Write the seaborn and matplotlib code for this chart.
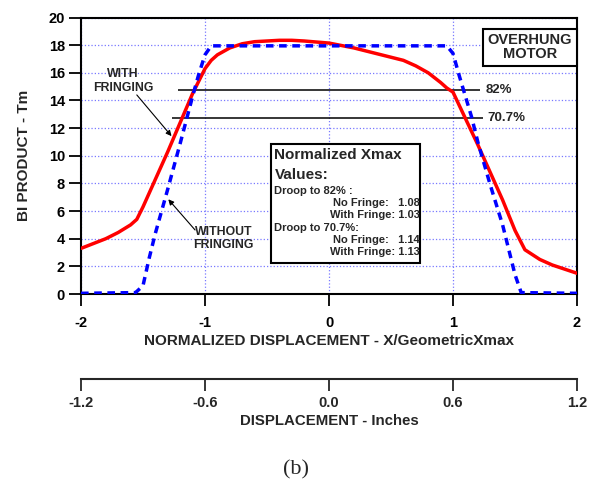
import matplotlib
matplotlib.use('Agg')
import matplotlib.pyplot as plt
import seaborn as sns
import pandas as pd
from matplotlib.patches import Rectangle

# BL curve with fringing (red)
x_fringe = [-2.0, -1.9, -1.8, -1.7, -1.6, -1.55, -1.5, -1.4, -1.3, -1.2, -1.1, -1.0,
            -0.95, -0.9, -0.8, -0.7, -0.6, -0.4, -0.3, -0.2, 0.0, 0.2, 0.4, 0.6,
            0.7, 0.8, 0.9, 0.95, 1.0, 1.1, 1.2, 1.3, 1.4, 1.5, 1.58, 1.7, 1.8, 1.9, 2.0]
bl_fringe = [3.3, 3.65, 4.0, 4.45, 5.0, 5.4, 6.3, 8.3, 10.3, 12.4, 14.5, 16.3,
             16.9, 17.3, 17.8, 18.1, 18.25, 18.35, 18.35, 18.3, 18.15, 17.8, 17.35, 16.9,
             16.5, 16.0, 15.3, 14.9, 14.6, 12.7, 10.8, 8.8, 6.8, 4.6, 3.2, 2.5, 2.1, 1.8, 1.5]

# BL curve without fringing (blue dashed)
x_nofringe = [-2.0, -1.56, -1.5, -1.45, -1.4, -1.3, -1.2, -1.1, -1.05, -1.0, -0.95,
              0.95, 1.0, 1.05, 1.1, 1.15, 1.2, 1.3, 1.4, 1.5, 1.55, 2.0]
bl_nofringe = [0.05, 0.1, 0.6, 2.6, 4.4, 7.6, 10.9, 14.3, 15.9, 17.3, 17.95,
               17.95, 17.4, 15.8, 14.3, 12.8, 11.0, 7.9, 5.0, 1.4, 0.1, 0.05]

peak_bl = 18.0
droop_levels = [0.82, 0.707]
droop_labels = ['82%', '70.7%']

x_ticks = [-2, -1, 0, 1, 2]
y_ticks = list(range(0, 21, 2))
inch_ticks = [-1.2, -0.6, 0.0, 0.6, 1.2]

df_f = pd.DataFrame({'x': x_fringe, 'bl': bl_fringe})
df_n = pd.DataFrame({'x': x_nofringe, 'bl': bl_nofringe})

sns.set_style('ticks')
plt.rcParams['font.family'] = ['Liberation Sans', 'DejaVu Sans']
plt.rcParams['font.weight'] = 'bold'
plt.rcParams['axes.labelweight'] = 'bold'
plt.rcParams['axes.unicode_minus'] = False

fig = plt.figure(figsize=(5.93, 4.83), dpi=100)
ax = fig.add_axes([81 / 593, 1 - 294 / 483, 496 / 593, 276.5 / 483])

sns.lineplot(data=df_f, x='x', y='bl', ax=ax, color='red', lw=2.5, sort=False, zorder=4)
sns.lineplot(data=df_n, x='x', y='bl', ax=ax, color='blue', lw=2.5, sort=False,
             linestyle=(0, (2.2, 1.6)), zorder=4)

ax.set_xlim(-2, 2)
ax.set_ylim(0, 20)
ax.set_xticks(x_ticks)
ax.set_yticks(y_ticks)
ax.grid(True, color='#7878ff', linestyle=':', linewidth=0.9)
for s in ax.spines.values():
    s.set_color('black')
    s.set_linewidth(1.5)
ax.tick_params(direction='out', length=8.5, width=1.3, labelsize=10.5, colors='black')
ax.tick_params(axis='x', pad=7)
ax.tick_params(axis='y', pad=3)
ax.set_xlabel('NORMALIZED DISPLACEMENT - X/GeometricXmax', fontsize=11, labelpad=3)
ax.set_ylabel('BI PRODUCT - Tm', fontsize=11, labelpad=13)

# droop reference lines
for lvl, lab, x0, x1 in zip(droop_levels, droop_labels, [-1.22, -1.27], [1.22, 1.24]):
    ax.hlines(peak_bl * lvl, x0, x1, color='black', lw=1.1, zorder=3)
    ax.text(x1 + 0.04, peak_bl * lvl, lab, fontsize=9.5, va='center', ha='left')

# curve labels with arrows
arrow = dict(arrowstyle='-|>', color='black', lw=0.8, shrinkA=0, shrinkB=0, mutation_scale=8)
ax.text(-1.66, 15.4, 'WITH\nFRINGING', fontsize=8.8, ha='center', va='center', linespacing=1.15)
ax.annotate('', xy=(-1.27, 11.42), xytext=(-1.55, 14.4), arrowprops=arrow)
ax.text(-0.85, 4.0, 'WITHOUT\nFRINGING', fontsize=8.8, ha='center', va='center', linespacing=1.15)
ax.annotate('', xy=(-1.296, 6.85), xytext=(-1.08, 4.63), arrowprops=arrow)

ax.text(1.62, 17.85, 'OVERHUNG\nMOTOR', fontsize=10.5, ha='center', va='center',
        linespacing=1.05, zorder=6,
        bbox=dict(boxstyle='square,pad=0.3', fc='white', ec='black', lw=1.5))

# Normalized Xmax box
ax.add_patch(Rectangle((-0.468, 2.24), 1.2, 8.6, fc='white', ec='black', lw=1.5, zorder=5))
ax.text(-0.44, 10.05, 'Normalized Xmax', fontsize=11, ha='left', va='center', zorder=6)
ax.text(-0.44, 8.6, 'Values:', fontsize=11, ha='left', va='center', zorder=6)
small = dict(fontsize=8, zorder=6, va='center')
ax.text(-0.44, 7.45, 'Droop to 82% :', ha='left', **small)
ax.text(0.73, 6.58, 'No Fringe:   1.08', ha='right', **small)
ax.text(0.73, 5.71, 'With Fringe: 1.03', ha='right', **small)
ax.text(-0.44, 4.77, 'Droop to 70.7%:', ha='left', **small)
ax.text(0.73, 3.9, 'No Fringe:   1.14', ha='right', **small)
ax.text(0.73, 3.04, 'With Fringe: 1.13', ha='right', **small)

# secondary axis in inches
sec = ax.secondary_xaxis(-0.307, functions=(lambda v: v * 0.6, lambda v: v / 0.6))
sec.set_xticks(inch_ticks)
sec.set_xticklabels([f'{t:.1f}' for t in inch_ticks])
sec.spines['bottom'].set_linewidth(1.5)
sec.tick_params(direction='out', length=8.5, width=1.3, labelsize=10.5, pad=4)
sec.set_xlabel('DISPLACEMENT - Inches', fontsize=10.8, labelpad=3)

fig.text(0.5, 1 - 470 / 483, '(b)', family=['Liberation Serif', 'DejaVu Serif'],
         fontsize=16, weight='normal', ha='center', va='center')

fig.savefig('out.png', dpi=100)
